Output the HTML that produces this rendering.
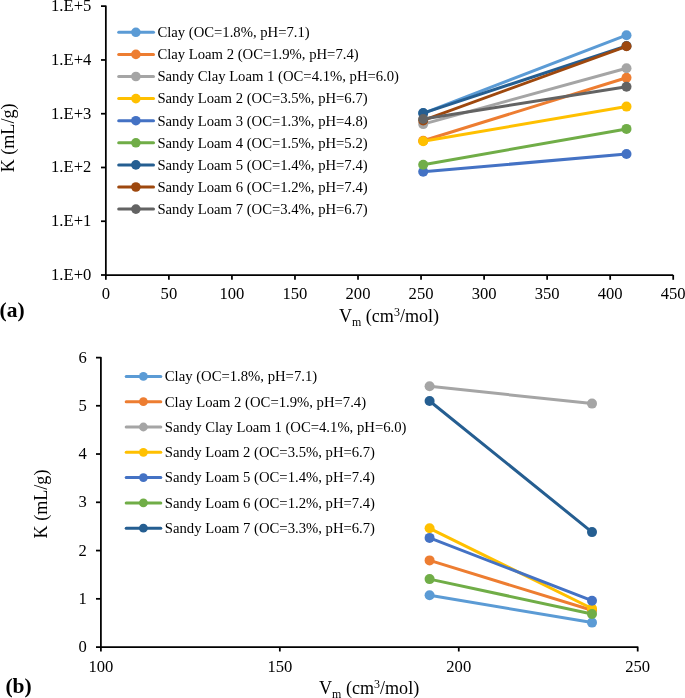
<!DOCTYPE html>
<html><head><meta charset="utf-8"><style>
html,body{margin:0;padding:0;background:#fff;}
body{width:685px;height:698px;overflow:hidden;}
svg{display:block;will-change:transform;font-family:"Liberation Serif", serif;fill:#000;}
</style></head><body>
<svg width="685" height="698" viewBox="0 0 685 698">
<path d="M101.00 6.20 H105.85 V275.00 H673.21" fill="none" stroke="#000" stroke-width="1.75" stroke-linejoin="round"/>
<line x1="101.00" y1="59.96" x2="105.85" y2="59.96" stroke="#000" stroke-width="1.75" stroke-linecap="butt"/>
<line x1="101.00" y1="113.72" x2="105.85" y2="113.72" stroke="#000" stroke-width="1.75" stroke-linecap="butt"/>
<line x1="101.00" y1="167.48" x2="105.85" y2="167.48" stroke="#000" stroke-width="1.75" stroke-linecap="butt"/>
<line x1="101.00" y1="221.24" x2="105.85" y2="221.24" stroke="#000" stroke-width="1.75" stroke-linecap="butt"/>
<line x1="101.00" y1="275.00" x2="105.85" y2="275.00" stroke="#000" stroke-width="1.75" stroke-linecap="butt"/>
<line x1="105.85" y1="275.00" x2="105.85" y2="279.80" stroke="#000" stroke-width="1.75" stroke-linecap="butt"/>
<line x1="168.89" y1="275.00" x2="168.89" y2="279.80" stroke="#000" stroke-width="1.75" stroke-linecap="butt"/>
<line x1="231.93" y1="275.00" x2="231.93" y2="279.80" stroke="#000" stroke-width="1.75" stroke-linecap="butt"/>
<line x1="294.97" y1="275.00" x2="294.97" y2="279.80" stroke="#000" stroke-width="1.75" stroke-linecap="butt"/>
<line x1="358.01" y1="275.00" x2="358.01" y2="279.80" stroke="#000" stroke-width="1.75" stroke-linecap="butt"/>
<line x1="421.05" y1="275.00" x2="421.05" y2="279.80" stroke="#000" stroke-width="1.75" stroke-linecap="butt"/>
<line x1="484.09" y1="275.00" x2="484.09" y2="279.80" stroke="#000" stroke-width="1.75" stroke-linecap="butt"/>
<line x1="547.13" y1="275.00" x2="547.13" y2="279.80" stroke="#000" stroke-width="1.75" stroke-linecap="butt"/>
<line x1="610.17" y1="275.00" x2="610.17" y2="279.80" stroke="#000" stroke-width="1.75" stroke-linecap="butt"/>
<line x1="673.21" y1="275.00" x2="673.21" y2="279.80" stroke="#000" stroke-width="1.75" stroke-linecap="butt"/>
<text x="91.30" y="11.20" font-size="16.6" text-anchor="end" font-weight="normal" >1.E+5</text>
<text x="91.30" y="64.96" font-size="16.6" text-anchor="end" font-weight="normal" >1.E+4</text>
<text x="91.30" y="118.72" font-size="16.6" text-anchor="end" font-weight="normal" >1.E+3</text>
<text x="91.30" y="172.48" font-size="16.6" text-anchor="end" font-weight="normal" >1.E+2</text>
<text x="91.30" y="226.24" font-size="16.6" text-anchor="end" font-weight="normal" >1.E+1</text>
<text x="91.30" y="280.00" font-size="16.6" text-anchor="end" font-weight="normal" >1.E+0</text>
<text x="105.85" y="298.80" font-size="16.6" text-anchor="middle" font-weight="normal" >0</text>
<text x="168.89" y="298.80" font-size="16.6" text-anchor="middle" font-weight="normal" >50</text>
<text x="231.93" y="298.80" font-size="16.6" text-anchor="middle" font-weight="normal" >100</text>
<text x="294.97" y="298.80" font-size="16.6" text-anchor="middle" font-weight="normal" >150</text>
<text x="358.01" y="298.80" font-size="16.6" text-anchor="middle" font-weight="normal" >200</text>
<text x="421.05" y="298.80" font-size="16.6" text-anchor="middle" font-weight="normal" >250</text>
<text x="484.09" y="298.80" font-size="16.6" text-anchor="middle" font-weight="normal" >300</text>
<text x="547.13" y="298.80" font-size="16.6" text-anchor="middle" font-weight="normal" >350</text>
<text x="610.17" y="298.80" font-size="16.6" text-anchor="middle" font-weight="normal" >400</text>
<text x="673.21" y="298.80" font-size="16.6" text-anchor="middle" font-weight="normal" >450</text>
<text transform="translate(13.9,137.9) rotate(-90)" x="0" y="0" font-size="18.1" text-anchor="middle">K (mL/g)</text>
<text x="338.9" y="321.8" font-size="18.1">V<tspan font-size="11.95" dy="4.0">m</tspan><tspan dy="-4.0"> (cm</tspan><tspan font-size="11.95" dy="-6">3</tspan><tspan dy="6">/mol)</tspan></text>
<text x="-0.50" y="316.80" font-size="21.5" text-anchor="start" font-weight="bold" >(a)</text>
<line x1="423.20" y1="113.30" x2="626.50" y2="35.20" stroke="#5B9BD5" stroke-width="3.0" stroke-linecap="round"/>
<circle cx="423.20" cy="113.30" r="5.0" fill="#5B9BD5"/>
<circle cx="626.50" cy="35.20" r="5.0" fill="#5B9BD5"/>
<line x1="423.20" y1="140.80" x2="626.50" y2="77.80" stroke="#ED7D31" stroke-width="3.0" stroke-linecap="round"/>
<circle cx="423.20" cy="140.80" r="5.0" fill="#ED7D31"/>
<circle cx="626.50" cy="77.80" r="5.0" fill="#ED7D31"/>
<line x1="423.20" y1="124.10" x2="626.50" y2="68.20" stroke="#A5A5A5" stroke-width="3.0" stroke-linecap="round"/>
<circle cx="423.20" cy="124.10" r="5.0" fill="#A5A5A5"/>
<circle cx="626.50" cy="68.20" r="5.0" fill="#A5A5A5"/>
<line x1="423.20" y1="141.20" x2="626.50" y2="106.60" stroke="#FFC000" stroke-width="3.0" stroke-linecap="round"/>
<circle cx="423.20" cy="141.20" r="5.0" fill="#FFC000"/>
<circle cx="626.50" cy="106.60" r="5.0" fill="#FFC000"/>
<line x1="423.20" y1="171.80" x2="626.50" y2="154.00" stroke="#4472C4" stroke-width="3.0" stroke-linecap="round"/>
<circle cx="423.20" cy="171.80" r="5.0" fill="#4472C4"/>
<circle cx="626.50" cy="154.00" r="5.0" fill="#4472C4"/>
<line x1="423.20" y1="164.70" x2="626.50" y2="128.90" stroke="#70AD47" stroke-width="3.0" stroke-linecap="round"/>
<circle cx="423.20" cy="164.70" r="5.0" fill="#70AD47"/>
<circle cx="626.50" cy="128.90" r="5.0" fill="#70AD47"/>
<line x1="423.20" y1="113.10" x2="626.50" y2="46.00" stroke="#255E91" stroke-width="3.0" stroke-linecap="round"/>
<circle cx="423.20" cy="113.10" r="5.0" fill="#255E91"/>
<circle cx="626.50" cy="46.00" r="5.0" fill="#255E91"/>
<line x1="423.20" y1="120.40" x2="626.50" y2="46.30" stroke="#9E480E" stroke-width="3.0" stroke-linecap="round"/>
<circle cx="423.20" cy="120.40" r="5.0" fill="#9E480E"/>
<circle cx="626.50" cy="46.30" r="5.0" fill="#9E480E"/>
<line x1="423.20" y1="119.00" x2="626.50" y2="86.80" stroke="#636363" stroke-width="3.0" stroke-linecap="round"/>
<circle cx="423.20" cy="119.00" r="5.0" fill="#636363"/>
<circle cx="626.50" cy="86.80" r="5.0" fill="#636363"/>
<line x1="118.70" y1="32.30" x2="153.50" y2="32.30" stroke="#5B9BD5" stroke-width="3.0" stroke-linecap="round"/>
<circle cx="135.90" cy="32.30" r="4.8" fill="#5B9BD5"/>
<text transform="translate(157.40,37.10) scale(1,1.06)" font-size="14.7" text-anchor="start" font-weight="normal" >Clay (OC=1.8%, pH=7.1)</text>
<line x1="118.70" y1="54.40" x2="153.50" y2="54.40" stroke="#ED7D31" stroke-width="3.0" stroke-linecap="round"/>
<circle cx="135.90" cy="54.40" r="4.8" fill="#ED7D31"/>
<text transform="translate(157.40,59.20) scale(1,1.06)" font-size="14.7" text-anchor="start" font-weight="normal" >Clay Loam 2 (OC=1.9%, pH=7.4)</text>
<line x1="118.70" y1="76.50" x2="153.50" y2="76.50" stroke="#A5A5A5" stroke-width="3.0" stroke-linecap="round"/>
<circle cx="135.90" cy="76.50" r="4.8" fill="#A5A5A5"/>
<text transform="translate(157.40,81.30) scale(1,1.06)" font-size="14.7" text-anchor="start" font-weight="normal" >Sandy Clay Loam 1 (OC=4.1%, pH=6.0)</text>
<line x1="118.70" y1="98.60" x2="153.50" y2="98.60" stroke="#FFC000" stroke-width="3.0" stroke-linecap="round"/>
<circle cx="135.90" cy="98.60" r="4.8" fill="#FFC000"/>
<text transform="translate(157.40,103.40) scale(1,1.06)" font-size="14.7" text-anchor="start" font-weight="normal" >Sandy Loam 2 (OC=3.5%, pH=6.7)</text>
<line x1="118.70" y1="120.70" x2="153.50" y2="120.70" stroke="#4472C4" stroke-width="3.0" stroke-linecap="round"/>
<circle cx="135.90" cy="120.70" r="4.8" fill="#4472C4"/>
<text transform="translate(157.40,125.50) scale(1,1.06)" font-size="14.7" text-anchor="start" font-weight="normal" >Sandy Loam 3 (OC=1.3%, pH=4.8)</text>
<line x1="118.70" y1="142.80" x2="153.50" y2="142.80" stroke="#70AD47" stroke-width="3.0" stroke-linecap="round"/>
<circle cx="135.90" cy="142.80" r="4.8" fill="#70AD47"/>
<text transform="translate(157.40,147.60) scale(1,1.06)" font-size="14.7" text-anchor="start" font-weight="normal" >Sandy Loam 4 (OC=1.5%, pH=5.2)</text>
<line x1="118.70" y1="164.90" x2="153.50" y2="164.90" stroke="#255E91" stroke-width="3.0" stroke-linecap="round"/>
<circle cx="135.90" cy="164.90" r="4.8" fill="#255E91"/>
<text transform="translate(157.40,169.70) scale(1,1.06)" font-size="14.7" text-anchor="start" font-weight="normal" >Sandy Loam 5 (OC=1.4%, pH=7.4)</text>
<line x1="118.70" y1="187.00" x2="153.50" y2="187.00" stroke="#9E480E" stroke-width="3.0" stroke-linecap="round"/>
<circle cx="135.90" cy="187.00" r="4.8" fill="#9E480E"/>
<text transform="translate(157.40,191.80) scale(1,1.06)" font-size="14.7" text-anchor="start" font-weight="normal" >Sandy Loam 6 (OC=1.2%, pH=7.4)</text>
<line x1="118.70" y1="209.10" x2="153.50" y2="209.10" stroke="#636363" stroke-width="3.0" stroke-linecap="round"/>
<circle cx="135.90" cy="209.10" r="4.8" fill="#636363"/>
<text transform="translate(157.40,213.90) scale(1,1.06)" font-size="14.7" text-anchor="start" font-weight="normal" >Sandy Loam 7 (OC=3.4%, pH=6.7)</text>
<path d="M96.00 357.50 H100.90 V647.10 H637.70 V651.50" fill="none" stroke="#000" stroke-width="1.75" stroke-linejoin="round"/>
<line x1="96.00" y1="405.77" x2="100.90" y2="405.77" stroke="#000" stroke-width="1.75" stroke-linecap="butt"/>
<line x1="96.00" y1="454.03" x2="100.90" y2="454.03" stroke="#000" stroke-width="1.75" stroke-linecap="butt"/>
<line x1="96.00" y1="502.30" x2="100.90" y2="502.30" stroke="#000" stroke-width="1.75" stroke-linecap="butt"/>
<line x1="96.00" y1="550.57" x2="100.90" y2="550.57" stroke="#000" stroke-width="1.75" stroke-linecap="butt"/>
<line x1="96.00" y1="598.83" x2="100.90" y2="598.83" stroke="#000" stroke-width="1.75" stroke-linecap="butt"/>
<line x1="96.00" y1="647.10" x2="100.90" y2="647.10" stroke="#000" stroke-width="1.75" stroke-linecap="butt"/>
<line x1="100.90" y1="647.10" x2="100.90" y2="651.50" stroke="#000" stroke-width="1.75" stroke-linecap="butt"/>
<line x1="279.83" y1="647.10" x2="279.83" y2="651.50" stroke="#000" stroke-width="1.75" stroke-linecap="butt"/>
<line x1="458.77" y1="647.10" x2="458.77" y2="651.50" stroke="#000" stroke-width="1.75" stroke-linecap="butt"/>
<text x="86.90" y="362.50" font-size="16.6" text-anchor="end" font-weight="normal" >6</text>
<text x="86.90" y="410.77" font-size="16.6" text-anchor="end" font-weight="normal" >5</text>
<text x="86.90" y="459.03" font-size="16.6" text-anchor="end" font-weight="normal" >4</text>
<text x="86.90" y="507.30" font-size="16.6" text-anchor="end" font-weight="normal" >3</text>
<text x="86.90" y="555.57" font-size="16.6" text-anchor="end" font-weight="normal" >2</text>
<text x="86.90" y="603.83" font-size="16.6" text-anchor="end" font-weight="normal" >1</text>
<text x="86.90" y="652.10" font-size="16.6" text-anchor="end" font-weight="normal" >0</text>
<text x="100.90" y="671.60" font-size="16.6" text-anchor="middle" font-weight="normal" >100</text>
<text x="279.83" y="671.60" font-size="16.6" text-anchor="middle" font-weight="normal" >150</text>
<text x="458.77" y="671.60" font-size="16.6" text-anchor="middle" font-weight="normal" >200</text>
<text x="637.70" y="671.60" font-size="16.6" text-anchor="middle" font-weight="normal" >250</text>
<text transform="translate(46.9,504.0) rotate(-90)" x="0" y="0" font-size="18.1" text-anchor="middle">K (mL/g)</text>
<text x="319.0" y="693.8" font-size="18.1">V<tspan font-size="11.95" dy="4.0">m</tspan><tspan dy="-4.0"> (cm</tspan><tspan font-size="11.95" dy="-6">3</tspan><tspan dy="6">/mol)</tspan></text>
<text x="5.40" y="693.00" font-size="21.5" text-anchor="start" font-weight="bold" >(b)</text>
<line x1="429.60" y1="595.20" x2="592.00" y2="622.60" stroke="#5B9BD5" stroke-width="3.0" stroke-linecap="round"/>
<circle cx="429.60" cy="595.20" r="5.0" fill="#5B9BD5"/>
<circle cx="592.00" cy="622.60" r="5.0" fill="#5B9BD5"/>
<line x1="429.60" y1="560.40" x2="592.00" y2="610.30" stroke="#ED7D31" stroke-width="3.0" stroke-linecap="round"/>
<circle cx="429.60" cy="560.40" r="5.0" fill="#ED7D31"/>
<circle cx="592.00" cy="610.30" r="5.0" fill="#ED7D31"/>
<line x1="429.60" y1="386.30" x2="592.00" y2="403.60" stroke="#A5A5A5" stroke-width="3.0" stroke-linecap="round"/>
<circle cx="429.60" cy="386.30" r="5.0" fill="#A5A5A5"/>
<circle cx="592.00" cy="403.60" r="5.0" fill="#A5A5A5"/>
<line x1="429.60" y1="528.30" x2="592.00" y2="608.50" stroke="#FFC000" stroke-width="3.0" stroke-linecap="round"/>
<circle cx="429.60" cy="528.30" r="5.0" fill="#FFC000"/>
<circle cx="592.00" cy="608.50" r="5.0" fill="#FFC000"/>
<line x1="429.60" y1="537.90" x2="592.00" y2="600.70" stroke="#4472C4" stroke-width="3.0" stroke-linecap="round"/>
<circle cx="429.60" cy="537.90" r="5.0" fill="#4472C4"/>
<circle cx="592.00" cy="600.70" r="5.0" fill="#4472C4"/>
<line x1="429.60" y1="579.10" x2="592.00" y2="614.00" stroke="#70AD47" stroke-width="3.0" stroke-linecap="round"/>
<circle cx="429.60" cy="579.10" r="5.0" fill="#70AD47"/>
<circle cx="592.00" cy="614.00" r="5.0" fill="#70AD47"/>
<line x1="429.60" y1="401.00" x2="592.00" y2="532.10" stroke="#255E91" stroke-width="3.0" stroke-linecap="round"/>
<circle cx="429.60" cy="401.00" r="5.0" fill="#255E91"/>
<circle cx="592.00" cy="532.10" r="5.0" fill="#255E91"/>
<line x1="126.20" y1="376.40" x2="160.80" y2="376.40" stroke="#5B9BD5" stroke-width="3.0" stroke-linecap="round"/>
<circle cx="143.40" cy="376.40" r="4.4" fill="#5B9BD5"/>
<text transform="translate(164.80,381.20) scale(1,1.06)" font-size="14.7" text-anchor="start" font-weight="normal" >Clay (OC=1.8%, pH=7.1)</text>
<line x1="126.20" y1="401.70" x2="160.80" y2="401.70" stroke="#ED7D31" stroke-width="3.0" stroke-linecap="round"/>
<circle cx="143.40" cy="401.70" r="4.4" fill="#ED7D31"/>
<text transform="translate(164.80,406.50) scale(1,1.06)" font-size="14.7" text-anchor="start" font-weight="normal" >Clay Loam 2 (OC=1.9%, pH=7.4)</text>
<line x1="126.20" y1="427.00" x2="160.80" y2="427.00" stroke="#A5A5A5" stroke-width="3.0" stroke-linecap="round"/>
<circle cx="143.40" cy="427.00" r="4.4" fill="#A5A5A5"/>
<text transform="translate(164.80,431.80) scale(1,1.06)" font-size="14.7" text-anchor="start" font-weight="normal" >Sandy Clay Loam 1 (OC=4.1%, pH=6.0)</text>
<line x1="126.20" y1="452.30" x2="160.80" y2="452.30" stroke="#FFC000" stroke-width="3.0" stroke-linecap="round"/>
<circle cx="143.40" cy="452.30" r="4.4" fill="#FFC000"/>
<text transform="translate(164.80,457.10) scale(1,1.06)" font-size="14.7" text-anchor="start" font-weight="normal" >Sandy Loam 2 (OC=3.5%, pH=6.7)</text>
<line x1="126.20" y1="477.60" x2="160.80" y2="477.60" stroke="#4472C4" stroke-width="3.0" stroke-linecap="round"/>
<circle cx="143.40" cy="477.60" r="4.4" fill="#4472C4"/>
<text transform="translate(164.80,482.40) scale(1,1.06)" font-size="14.7" text-anchor="start" font-weight="normal" >Sandy Loam 5 (OC=1.4%, pH=7.4)</text>
<line x1="126.20" y1="502.90" x2="160.80" y2="502.90" stroke="#70AD47" stroke-width="3.0" stroke-linecap="round"/>
<circle cx="143.40" cy="502.90" r="4.4" fill="#70AD47"/>
<text transform="translate(164.80,507.70) scale(1,1.06)" font-size="14.7" text-anchor="start" font-weight="normal" >Sandy Loam 6 (OC=1.2%, pH=7.4)</text>
<line x1="126.20" y1="528.20" x2="160.80" y2="528.20" stroke="#255E91" stroke-width="3.0" stroke-linecap="round"/>
<circle cx="143.40" cy="528.20" r="4.4" fill="#255E91"/>
<text transform="translate(164.80,533.00) scale(1,1.06)" font-size="14.7" text-anchor="start" font-weight="normal" >Sandy Loam 7 (OC=3.3%, pH=6.7)</text>
</svg>
</body></html>
